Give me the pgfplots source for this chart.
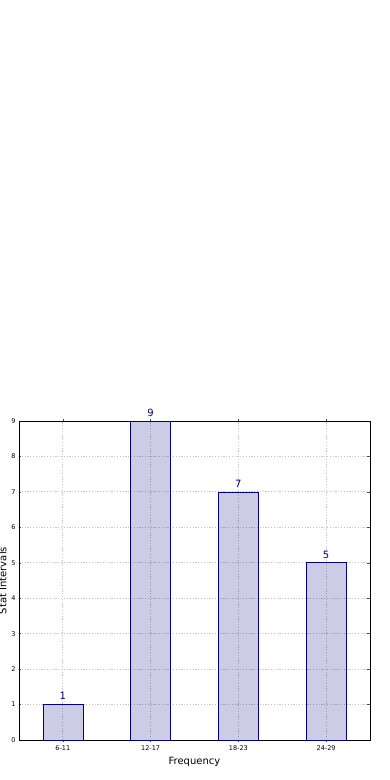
\documentclass[border=0pt]{standalone}
\usepackage{fontspec}
\setmainfont{DejaVu Sans}
\usepackage{pgfplots}
\pgfplotsset{compat=1.18}
\definecolor{baredge}{RGB}{0,0,128}
\begin{document}
\begin{tikzpicture}
\path[use as bounding box] (-19pt,-40pt) rectangle (371pt,740pt);
\begin{axis}[
  at={(0pt,0pt)}, anchor=south west,
  scale only axis,
  width=351pt, height=319pt,
  xmin=-0.5, xmax=3.5, ymin=0, ymax=9,
  xtick={0,1,2,3},
  xticklabels={6-11,12-17,18-23,24-29},
  ytick={0,1,2,3,4,5,6,7,8,9},
  tick align=inside,
  major tick length=2.5pt,
  major tick style={black!70, line width=0.5pt},
  xtick pos=both, ytick pos=both,
  xticklabel style={font=\fontsize{6.5}{7}\selectfont},
  yticklabel style={font=\fontsize{6.5}{7}\selectfont},
  /pgf/number format/assume math mode=true,
  xlabel={Frequency}, ylabel={Stat Intervals},
  xlabel style={font=\fontsize{10}{12}\selectfont, yshift=1pt},
  ylabel style={font=\fontsize{10}{12}\selectfont, yshift=-2pt},
  grid=major,
  major grid style={gray!45, dash pattern=on 1.2pt off 1.6pt, line width=0.8pt},
  axis line style={black, line width=0.8pt},
  ybar, bar width=0.455,
  nodes near coords,
  nodes near coords style={font=\fontsize{10}{12}\selectfont, text=baredge, text opacity=1, yshift=1pt},
  clip=false,
]
\addplot[draw=baredge, fill=baredge, fill opacity=0.2, line width=0.6pt] coordinates {(0,1) (1,9) (2,7) (3,5)};
\end{axis}
\end{tikzpicture}
\end{document}
